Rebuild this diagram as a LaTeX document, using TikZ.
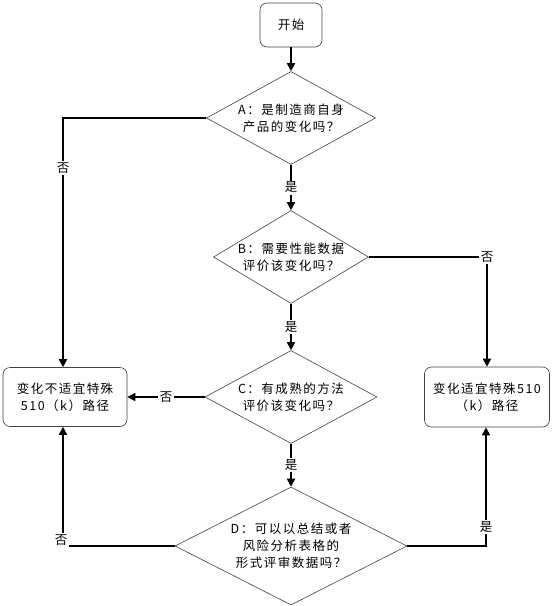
\documentclass[tikz,border=0pt]{standalone}
\usepackage{fontspec}
\setmainfont{Noto Sans CJK SC}[LetterSpace=12]
\usetikzlibrary{arrows.meta,positioning,shapes.geometric,calc}

\begin{document}
\begin{tikzpicture}[x=1pt, y=-1pt, every node/.style={font=\fontsize{12.5}{17}\selectfont},
    term/.style={draw=black!75, line width=0.6pt, rounded corners=7pt, align=center, inner sep=0pt},
    decide/.style={draw=black!75, line width=0.6pt, diamond, align=center, inner sep=0pt},
    flow/.style={line width=1.8pt, -{Triangle[length=8pt,width=8pt]}},
    tag/.style={fill=white, inner sep=1.5pt}]
    \useasboundingbox (0,0) rectangle (553,606);
    \node[term, minimum width=62pt, minimum height=44pt] (start) at (291,25) {开始};
    \node[decide, minimum width=169pt, minimum height=93pt, aspect=1.82] (a) at (291,118) {A：是制造商自身\\产品的变化吗？};
    \node[decide, minimum width=155pt, minimum height=93pt, aspect=1.67] (b) at (291,257) {B：需要性能数据\\评价该变化吗？};
    \node[decide, minimum width=172pt, minimum height=93pt, aspect=1.85] (c) at (291,397) {C：有成熟的方法\\评价该变化吗？};
    \node[decide, minimum width=232pt, minimum height=118pt, aspect=1.97] (d) at (291,546) {D：可以以总结或者\\风险分析表格的\\形式评审数据吗？};
    \node[term, minimum width=124pt, minimum height=59pt] (nofit) at (65,397) {变化不适宜特殊\\510（k）路径};
    \node[term, minimum width=125pt, minimum height=60pt] (yesfit) at (487,397) {变化适宜特殊510\\（k）路径};
    \draw[flow] (start) -- (a);
    \draw[flow] (a) -- (b) node[midway, tag] {是};
    \draw[flow] (b) -- (c) node[midway, tag] {是};
    \draw[flow] (c) -- (d) node[midway, tag] {是};
    \draw[flow] (a.west) -| ([xshift=-2pt]nofit.north) node[pos=0.6, tag] {否};
    \draw[flow] (c.west) -- (nofit.east) node[midway, tag] {否};
    \draw[flow] (d.west) -| ([xshift=-2pt]nofit.south) node[pos=0.5, tag, yshift=6pt, xshift=-2pt] {否};
    \draw[flow] (b.east) -| (yesfit.north) node[pos=0.5, tag] {否};
    \draw[flow] (d.east) -| ([xshift=-1pt]yesfit.south) node[pos=0.58, tag] {是};
\end{tikzpicture}
\end{document}
